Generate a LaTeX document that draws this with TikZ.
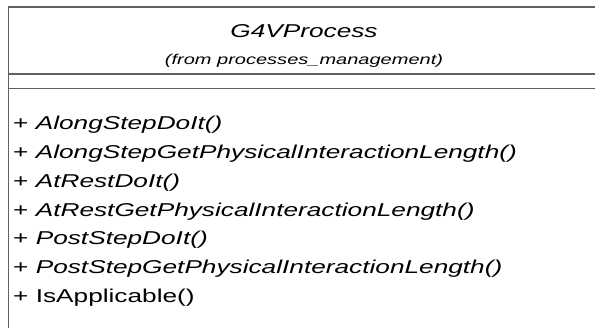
\documentclass[tikz,border=0pt]{standalone}
\usepackage{fontspec}
\setmainfont{Liberation Sans}
\newfontfamily\umlfont[FakeStretch=1.41]{Liberation Sans}
\usetikzlibrary{positioning}

\begin{document}
\begin{tikzpicture}[x=1pt,y=-1pt,
                    class line/.style={line width=1.6pt,color=black!62},
                    class name/.style={anchor=base,inner sep=0pt,font=\umlfont\itshape\fontsize{18.6}{22}\selectfont},
                    package name/.style={anchor=base,inner sep=0pt,font=\umlfont\itshape\fontsize{14.2}{17}\selectfont},
                    member/.style={anchor=base west,inner sep=0pt,font=\umlfont\fontsize{18.6}{22}\selectfont}]

  \useasboundingbox (0,0) rectangle (595,328);
  \fill[white] (0,0) rectangle (595,328);

  % class box, cut off at right and bottom
  \draw[class line] (595,7) -- (8.5,7) -- (8.5,328);
  \draw[class line] (8.5,74) -- (595,74);
  \draw[class line] (8.5,88.5) -- (595,88.5);

  \node[class name] (title) at (304,38) {G4VProcess};
  \node[package name] (from) at (304,65) {(from processes\_management)};

  % operations
  \foreach \op [count=\k] in {AlongStepDoIt(),AlongStepGetPhysicalInteractionLength(),
      AtRestDoIt(),AtRestGetPhysicalInteractionLength(),PostStepDoIt(),
      PostStepGetPhysicalInteractionLength()}
    \node[member] (op\k) at (13,{130+28.7*(\k-1)}) {+ \textit{\op}};
  \node[member] (op7) at (13,{130+28.7*6}) {+ IsApplicable()};

\end{tikzpicture}
\end{document}
